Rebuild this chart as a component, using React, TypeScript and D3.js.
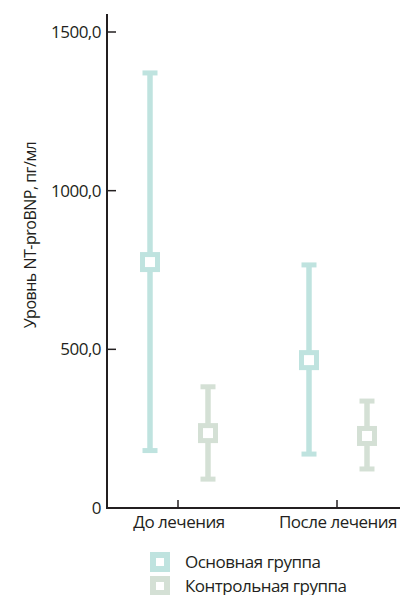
import { useRef, useEffect } from 'react';
import * as d3 from 'd3';

const categories = ['До лечения', 'После лечения'];
const groups = ['Основная группа', 'Контрольная группа'];
const groupColors = ['#bfe3df', '#d4e0d5'];
// [category][group] -> median, low, high
const medians = [[775, 236], [466, 227]];
const lows = [[181, 91], [170, 123]];
const highs = [[1371, 382], [766, 337]];
const yTicks = [0, 500, 1000, 1500];

const FONT = '"Open Sans", "DejaVu Sans", sans-serif';
const FS = 17;
const LS = -0.5;

export default function App() {
  const svgRef = useRef<SVGSVGElement>(null);

  useEffect(() => {
    const svg = d3.select(svgRef.current);
    svg.selectAll('*').remove();

    const y = d3.scaleLinear().domain([0, 1500]).range([508, 32]);
    const x = d3.scalePoint().domain(categories).range([178, 337]);
    const offsets = [-28, 30];

    const g = svg.append('g');

    // error bars
    categories.forEach((c, ci) => {
      groups.forEach((gr, gi) => {
        const cx = x(c)! + offsets[gi];
        const col = groupColors[gi];
        g.append('line')
          .attr('x1', cx).attr('x2', cx)
          .attr('y1', y(lows[ci][gi])).attr('y2', y(highs[ci][gi]))
          .attr('stroke', col).attr('stroke-width', 5.5);
        [lows[ci][gi], highs[ci][gi]].forEach(v => {
          g.append('line')
            .attr('x1', cx - 7.5).attr('x2', cx + 7.5)
            .attr('y1', y(v)).attr('y2', y(v))
            .attr('stroke', col).attr('stroke-width', 5);
        });
        g.append('rect')
          .attr('x', cx - 7.5).attr('y', y(medians[ci][gi]) - 7.5)
          .attr('width', 15).attr('height', 15)
          .attr('fill', '#fff').attr('stroke', col).attr('stroke-width', 5);
      });
    });

    // axes
    const axisColor = '#231f20';
    g.append('line')
      .attr('x1', 107).attr('x2', 107).attr('y1', 14).attr('y2', 509)
      .attr('stroke', axisColor).attr('stroke-width', 2);
    g.append('line')
      .attr('x1', 106).attr('x2', 400).attr('y1', 508).attr('y2', 508)
      .attr('stroke', axisColor).attr('stroke-width', 2);

    yTicks.forEach(t => {
      if (t > 0) {
        g.append('line')
          .attr('x1', 107).attr('x2', 116).attr('y1', y(t)).attr('y2', y(t))
          .attr('stroke', axisColor).attr('stroke-width', 1.5);
      }
      g.append('text')
        .attr('x', 101).attr('y', y(t) + 6)
        .attr('text-anchor', 'end')
        .attr('font-family', FONT).attr('font-size', FS)
        .attr('letter-spacing', LS)
        .attr('fill', axisColor)
        .text(t === 0 ? '0' : d3.format('.1f')(t).replace('.', ','));
    });

    categories.forEach(c => {
      g.append('line')
        .attr('x1', x(c)!).attr('x2', x(c)!).attr('y1', 500).attr('y2', 508)
        .attr('stroke', axisColor).attr('stroke-width', 1.5);
      g.append('text')
        .attr('x', x(c)! + 1).attr('y', 528)
        .attr('text-anchor', 'middle')
        .attr('font-family', FONT).attr('font-size', FS)
        .attr('letter-spacing', LS)
        .attr('fill', axisColor)
        .text(c);
    });

    g.append('text')
      .attr('transform', `translate(36, 235) rotate(-90)`)
      .attr('text-anchor', 'middle')
      .attr('font-family', FONT).attr('font-size', 16)
      .attr('letter-spacing', LS)
      .attr('fill', axisColor)
      .text('Уровнь NT-proBNP, пг/мл');

    // legend
    groups.forEach((gr, gi) => {
      const ly = 562 + gi * 24;
      g.append('rect')
        .attr('x', 153).attr('y', ly - 7)
        .attr('width', 14).attr('height', 14)
        .attr('fill', '#fff').attr('stroke', groupColors[gi]).attr('stroke-width', 6);
      g.append('text')
        .attr('x', 185).attr('y', ly + 6)
        .attr('font-family', FONT).attr('font-size', FS)
        .attr('letter-spacing', LS)
        .attr('fill', axisColor)
        .text(gr);
    });
  }, []);

  return (
    <svg ref={svgRef} width={400} height={595}
      style={{ position: 'absolute', left: 0, top: 0, background: '#fff' }} />
  );
}
